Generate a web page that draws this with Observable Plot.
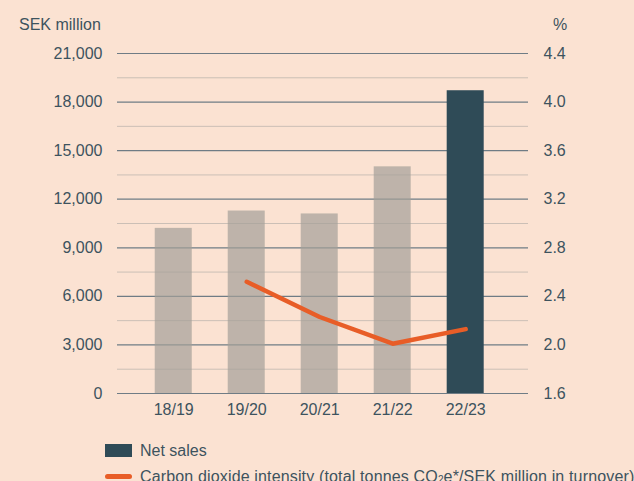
<!DOCTYPE html>
<html>
<head>
<meta charset="utf-8">
<script src="https://cdn.jsdelivr.net/npm/d3@7"></script>
<script src="https://cdn.jsdelivr.net/npm/@observablehq/plot@0.6"></script>
<style>
  html, body { margin: 0; padding: 0; background: #fbe2d2; }
  #wrap { position: relative; width: 634px; height: 481px; overflow: hidden; background: #fbe2d2;
          font-family: "Liberation Sans", Arial, sans-serif; color: #3d535e; font-size: 16px; }
  .lab { position: absolute; white-space: nowrap; line-height: 1; }
  .leg { position: absolute; left: 105px; white-space: nowrap; line-height: 1; }
  .sw { display: inline-block; vertical-align: middle; }
</style>
</head>
<body>
<div id="wrap">
  <div id="chart"></div>
  <div class="lab" style="left:19px; top:17px;">SEK million</div>
  <div class="lab" style="left:553px; top:17px;">%</div>
  <div class="leg" style="top:442px;"><span class="sw" style="width:27px;height:13px;background:#2f4b57;margin-right:8px;"></span><span style="vertical-align:middle;">Net sales</span></div>
  <div class="leg" style="top:468px;"><span class="sw" style="width:27px;height:5px;border-radius:3px;background:#e85d27;margin-right:8px;"></span><span style="vertical-align:middle;letter-spacing:0.15px;">Carbon dioxide intensity (total tonnes CO<sub style="font-size:10px;vertical-align:-1px;">2</sub>e*/SEK million in turnover)</span></div>
</div>
<script>
const years = ["18/19", "19/20", "20/21", "21/22", "22/23"];
const netSales = [10200, 11270, 11090, 14000, 18700];
const intensityYears = ["19/20", "20/21", "21/22", "22/23"];
const intensity = [2.52, 2.23, 2.01, 2.13];
const leftTicks = [0, 3000, 6000, 9000, 12000, 15000, 18000, 21000];
const minorTicks = [1500, 4500, 7500, 10500, 13500, 16500, 19500];
const rightMin = 1.6, rightMax = 4.4, leftMax = 21000;

const sales = years.map((y, i) => ({year: y, value: netSales[i], current: y === "22/23"}));
const toLeft = v => (v - rightMin) / (rightMax - rightMin) * leftMax;
const co2 = intensityYears.map((y, i) => ({year: y, value: intensity[i], yl: toLeft(intensity[i])}));

const chart = Plot.plot({
  width: 634,
  height: 430,
  marginTop: 53,
  marginBottom: 37,
  marginLeft: 117,
  marginRight: 106,
  style: {background: "transparent", fontSize: "16px", fontFamily: "Liberation Sans, Arial, sans-serif", color: "#3d535e"},
  x: {domain: years, padding: 0.493, paddingOuter: 0.562, align: 0.46, round: false, label: null},
  y: {domain: [0, leftMax], label: null},
  marks: [
    Plot.ruleY(minorTicks, {stroke: "#cbbfb6", strokeWidth: 1}),
    Plot.ruleY(leftTicks, {stroke: "#6f7c85", strokeWidth: 1.2}),
    Plot.barY(sales.filter(d => !d.current), {x: "year", y: "value", fill: "#a49f99", fillOpacity: 0.7}),
    Plot.barY(sales.filter(d => d.current), {x: "year", y: "value", fill: "#2f4b57"}),
    Plot.lineY(co2, {x: "year", y: "yl", stroke: "#e85d27", strokeWidth: 4.5, strokeLinecap: "round", strokeLinejoin: "round"}),
    Plot.axisY(leftTicks, {anchor: "left", tickSize: 0, tickPadding: 15, tickFormat: d3.format(","), label: null}),
    Plot.axisY(leftTicks, {anchor: "right", tickSize: 0, tickPadding: 15, tickFormat: d => (rightMin + d / leftMax * (rightMax - rightMin)).toFixed(1), label: null}),
    Plot.axisX({tickSize: 0, tickPadding: 10, label: null})
  ]
});
document.getElementById("chart").appendChild(chart);
</script>
</body>
</html>
